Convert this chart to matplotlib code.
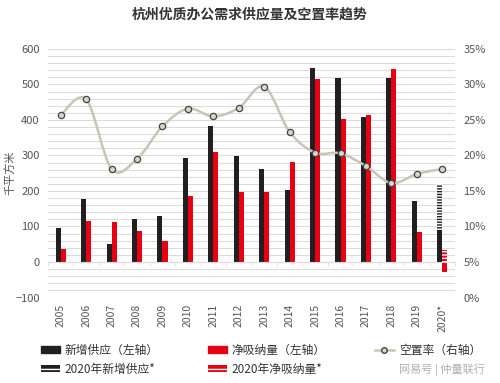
import numpy as np
import matplotlib.pyplot as plt
from matplotlib.patches import Patch
from matplotlib.lines import Line2D
from matplotlib.path import Path
from matplotlib.patches import PathPatch

plt.rcParams['font.family'] = ['Noto Sans CJK SC', 'DejaVu Sans']

years = ['2005', '2006', '2007', '2008', '2009', '2010', '2011', '2012',
         '2013', '2014', '2015', '2016', '2017', '2018', '2019', '2020*']
supply = [97, 177, 51, 121, 130, 292, 384, 299, 261, 203, 546, 517, 408, 519, 172, 87]
absorption = [38, 116, 113, 87, 58, 187, 311, 197, 197, 283, 514, 404, 413, 544, 85, -28]
supply_2020_forecast = 219   # hatched top of 2020 supply
absorption_2020_forecast = 35  # hatched top of 2020 absorption
vacancy = [25.7, 27.9, 18.1, 19.5, 24.1, 26.6, 25.5, 26.7,
           29.7, 23.3, 20.4, 20.3, 18.5, 16.1, 17.4, 18.1]

BLACK = '#231f20'
RED = '#e60012'
LINE = '#c9c5b5'
GRID = '#dcdcdc'
TXT = '#555555'

fig = plt.figure(figsize=(5, 3.83), dpi=100)
ax = fig.add_axes([0.096, 0.2232, 0.814, 0.649])

x = np.arange(len(years))
w = 0.2

# grid every 20
for g in range(-100, 601, 20):
    ax.axhline(g, color=GRID, lw=0.8, zorder=0)

ax.bar(x - w / 2, supply, w, color=BLACK, zorder=2)
ax.bar(x + w / 2, absorption[:-1] + [0], w, color=RED, zorder=2)
# 2020 bars
ax.bar(x[-1] + w / 2, absorption[-1], w, color=RED, zorder=2)
ax.bar(x[-1] - w / 2, supply_2020_forecast - supply[-1], w, bottom=supply[-1],
       color=BLACK, edgecolor='white', hatch='------', lw=0, zorder=2)
ax.bar(x[-1] + w / 2, absorption_2020_forecast, w,
       color=RED, edgecolor='white', hatch='-----', lw=0, zorder=2)

ax.set_xlim(-0.5, len(years) - 0.5)
ax.set_ylim(-100, 600)
ax.set_yticks(range(-100, 601, 100))
ax.tick_params(axis='y', length=0, labelsize=8, labelcolor=TXT, pad=6)
for s in ax.spines.values():
    s.set_visible(False)
ax.set_xticks([])
ax.set_xticks(np.arange(-0.5, len(years)), minor=True)
ax.spines['bottom'].set_visible(True)
ax.spines['bottom'].set_position(('data', 0))
ax.spines['bottom'].set_color(GRID)
ax.tick_params(axis='x', which='minor', length=3, color=GRID, labelbottom=False)

for xi, lab in zip(x, years):
    ax.text(xi, -0.025, lab, rotation=90, ha='center', va='top', fontsize=7.5,
            color=TXT, transform=ax.get_xaxis_transform())

ax.set_ylabel('千平方米', fontsize=8, color=TXT)
ax.yaxis.set_label_coords(-0.08, 0.5)

# right axis
ax2 = ax.twinx()
ax2.set_ylim(0, 35)
ax2.set_yticks(range(0, 36, 5))
ax2.set_yticklabels([f'{v}%' for v in range(0, 36, 5)])
ax2.tick_params(axis='y', length=0, labelsize=8, labelcolor=TXT, pad=6)
for s in ax2.spines.values():
    s.set_visible(False)

# smooth vacancy curve (Catmull-Rom as cubic Bezier path)
pts = np.column_stack([x, vacancy]).astype(float)
verts = [pts[0]]
codes = [Path.MOVETO]
for i in range(len(pts) - 1):
    p0 = pts[i - 1] if i > 0 else pts[i]
    p1, p2 = pts[i], pts[i + 1]
    p3 = pts[i + 2] if i + 2 < len(pts) else pts[i + 1]
    c1 = p1 + (p2 - p0) / 6
    c2 = p2 - (p3 - p1) / 6
    verts += [c1, c2, p2]
    codes += [Path.CURVE4] * 3
ax2.add_patch(PathPatch(Path(verts, codes), fill=False, edgecolor=LINE, lw=1.8, zorder=3))
ax2.plot(x, vacancy, ls='none', marker='o', ms=4.5, mfc='#d8d6cc', mec='#444444',
         mew=0.9, zorder=4)

fig.text(0.5, 0.962, '杭州优质办公需求供应量及空置率趋势', ha='center', va='center',
         fontsize=10, color='#333333', fontweight='bold')

handles = [
    Patch(facecolor=BLACK, edgecolor=BLACK),
    Patch(facecolor=BLACK, edgecolor='white', hatch='---', lw=0),
    Patch(facecolor=RED, edgecolor=RED),
    Patch(facecolor=RED, edgecolor='white', hatch='---', lw=0),
    Line2D([0], [0], color=LINE, lw=1.8, marker='o', ms=4, mfc='#d8d6cc', mec='#444444'),
]
labels = ['新增供应（左轴）', '2020年新增供应*', '净吸纳量（左轴）', '2020年净吸纳量*', '空置率（右轴）']
fig.legend(handles, labels, ncol=3, loc='upper left', bbox_to_anchor=(0.06, 0.13),
           frameon=False, fontsize=8.5, handlelength=1.6, handleheight=0.5,
           columnspacing=4.2, labelspacing=0.5, handletextpad=0.4, labelcolor='#333333')

fig.text(0.97, 0.035, '网易号 | 仲量联行', ha='right', va='center', fontsize=8, color='#b0b0b0')

fig.savefig('out.png', dpi=100)
